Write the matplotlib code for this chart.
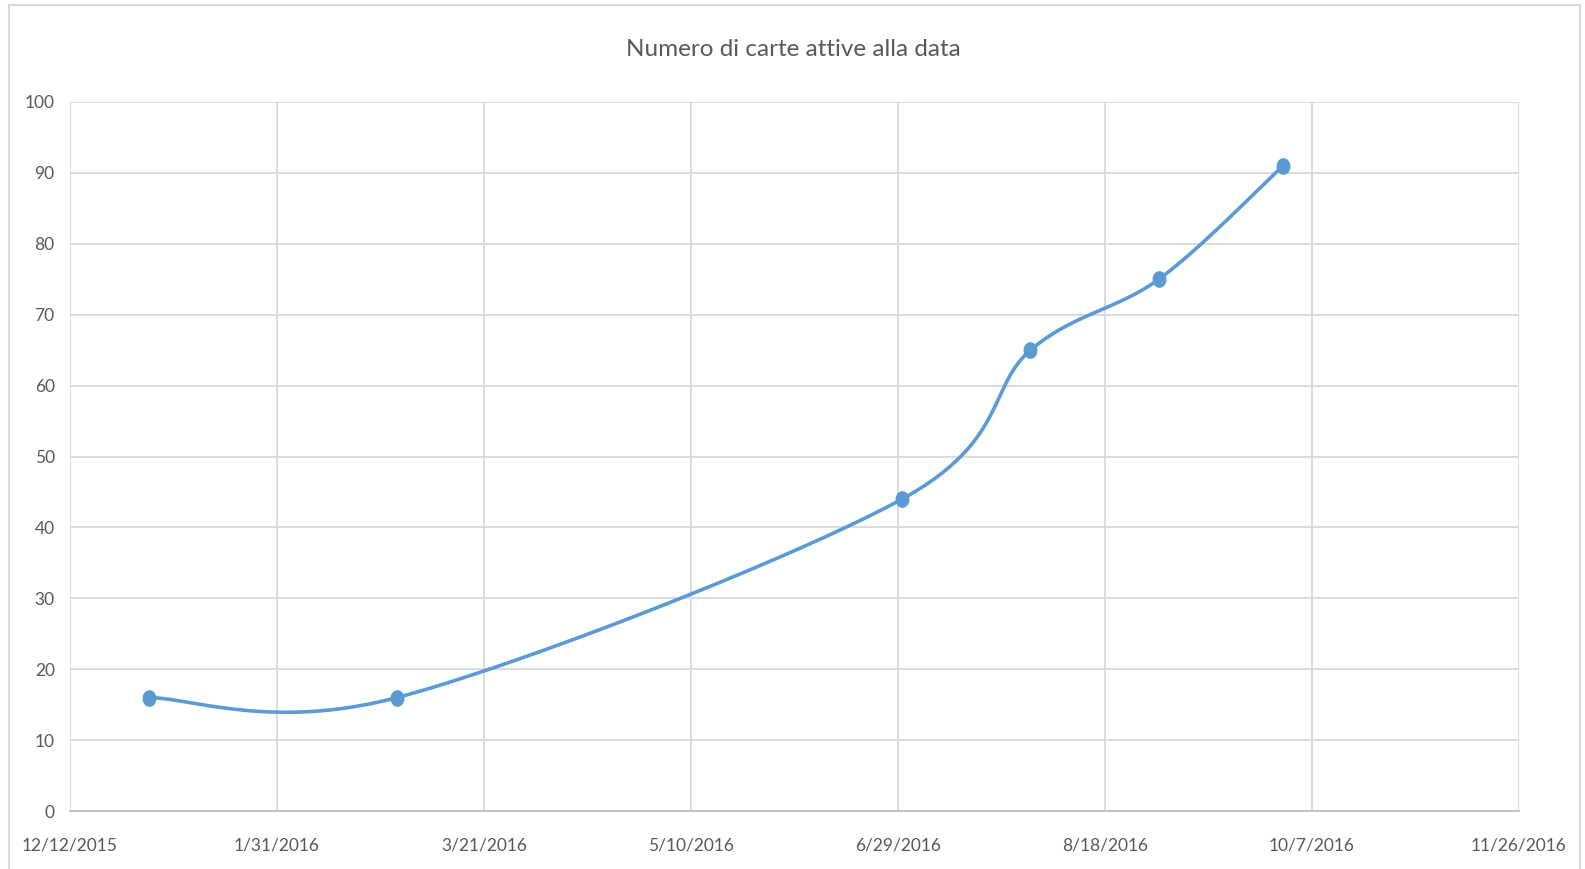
import datetime as dt

import matplotlib
matplotlib.use("Agg")
import matplotlib.pyplot as plt
import matplotlib.dates as mdates
import numpy as np
from matplotlib.patches import Rectangle
from matplotlib.path import Path

# data
dates = ["2015-12-31", "2016-02-29", "2016-06-30", "2016-07-31", "2016-08-31", "2016-09-30"]
cards = [16, 16, 44, 65, 75, 91]
x_start = dt.date(2015, 12, 12)
x_step_days = 50
x_ticks_count = 8
y_ticks = [0, 10, 20, 30, 40, 50, 60, 70, 80, 90, 100]
title = "Numero di carte attive alla data"

plt.rcParams["font.family"] = ["Lato", "DejaVu Sans"]

LINE = "#5B9BD5"
GRID = "#D9D9D9"
TEXT = "#595959"
W, H = 1585, 869


def smooth(xs, ys, n=60):
    """Excel-like smoothed line (Bezier with 1/6 control points)."""
    xs = np.asarray(xs, float)
    ys = np.asarray(ys, float)
    px = np.concatenate([[xs[0]], xs, [xs[-1]]])
    py = np.concatenate([[ys[0]], ys, [ys[-1]]])
    out_x, out_y = [], []
    t = np.linspace(0, 1, n)
    for i in range(1, len(px) - 2):
        p0 = np.array([px[i], py[i]])
        p3 = np.array([px[i + 1], py[i + 1]])
        c1 = p0 + (p3 - np.array([px[i - 1], py[i - 1]])) / 6
        c2 = p3 - (np.array([px[i + 2], py[i + 2]]) - p0) / 6
        b = ((1 - t) ** 3)[:, None] * p0 + (3 * (1 - t) ** 2 * t)[:, None] * c1 \
            + (3 * (1 - t) * t ** 2)[:, None] * c2 + (t ** 3)[:, None] * p3
        out_x.extend(b[:, 0])
        out_y.extend(b[:, 1])
    return np.array(out_x), np.array(out_y)


xnum = mdates.datestr2num(dates)
sx, sy = smooth(xnum, cards)

# slightly tall elliptical marker, as in the source image
ang = np.linspace(0, 2 * np.pi, 41)
ellipse = Path(np.column_stack([0.82 * np.cos(ang), np.sin(ang)]), closed=True)

fig = plt.figure(figsize=(W / 100, H / 100), dpi=100)
# chart area border (bottom edge runs off the image)
fig.patches.append(Rectangle((9 / W, -10 / H), 1571 / W, 874 / H,
                             transform=fig.transFigure, fill=False,
                             edgecolor="#D9D9D9", linewidth=1.5))
ax = fig.add_axes([70 / W, 1 - 811 / H, 1449 / W, 709 / H])

ax.plot(sx, sy, color=LINE, linewidth=2.6, solid_capstyle="round", zorder=3)
ax.plot(xnum, cards, linestyle="none", marker=ellipse, markersize=11,
        color=LINE, zorder=4)

tick_dates = [x_start + dt.timedelta(days=x_step_days * k) for k in range(x_ticks_count)]
tick_nums = mdates.date2num(tick_dates)
ax.set_xlim(tick_nums[0], tick_nums[-1])
ax.set_xticks(tick_nums)
ax.set_xticklabels([f"{d.month}/{d.day}/{d.year}" for d in tick_dates])
ax.set_ylim(0, 100)
ax.set_yticks(y_ticks)

ax.grid(True, color=GRID, linewidth=1.3)
ax.set_axisbelow(True)
for side in ["top", "right", "left"]:
    ax.spines[side].set_visible(False)
ax.spines["bottom"].set_color("#BFBFBF")
ax.spines["bottom"].set_linewidth(1.3)
ax.tick_params(axis="both", length=0, labelsize=12.5, colors=TEXT)
ax.tick_params(axis="x", pad=19)
ax.tick_params(axis="y", pad=11)

fig.text(793 / W, 1 - 49 / H, title, ha="center", va="center",
         fontsize=17.5, color=TEXT)

fig.savefig("out.png", dpi=100)
